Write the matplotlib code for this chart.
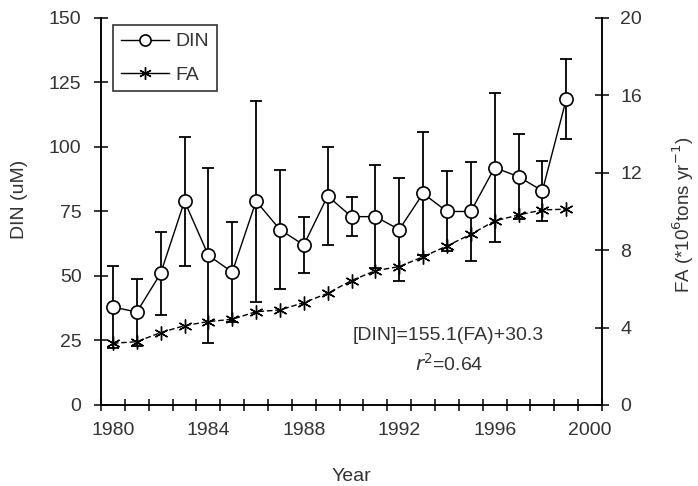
import matplotlib
matplotlib.use("Agg")
import matplotlib.pyplot as plt
from matplotlib.lines import Line2D

plt.rcParams['font.family'] = ['Liberation Sans', 'DejaVu Sans']

years = list(range(1980, 2000))
din = [38, 36, 51, 79, 58, 51.5, 79, 68, 62, 81, 73, 73, 68, 82, 75, 75, 92, 88.5, 83, 118.5]
din_err = [16, 13, 16, 25, 34, 19.5, 39, 23, 11, 19, 7.5, 20, 20, 24, 15.5, 19, 29, 16.5, 11.7, 15.5]
fa = [3.19, 3.27, 3.74, 4.10, 4.31, 4.43, 4.82, 4.91, 5.29, 5.77, 6.43, 6.94, 7.15, 7.66, 8.22,
      8.82, 9.51, 9.82, 10.08, 10.12]

din_ticks = [0, 25, 50, 75, 100, 125, 150]
fa_ticks = [0, 4, 8, 12, 16, 20]
year_labels = [1980, 1984, 1988, 1992, 1996, 2000]

txt = '#333333'
fs = 14

fig = plt.figure(figsize=(6.98, 4.86), dpi=100)
ax = fig.add_axes([0.1447, 0.1667, 0.7178, 0.7963])
ax2 = ax.twinx()

# DIN with error bars
ax.errorbar(years, din, yerr=din_err, fmt='none', ecolor='black', elinewidth=1.3,
            capsize=4.5, capthick=1.3, zorder=2)
ax.plot(years, din, color='black', lw=1.0, marker='o', markersize=9.5,
        markerfacecolor='white', markeredgecolor='black', markeredgewidth=1.2, zorder=3)

# FA
ax2.plot(years, fa, color='black', lw=1.0, ls=(0, (4, 2)), marker=(6, 2, 0), markersize=10,
         markeredgewidth=1.0, zorder=3)

ax.set_xlim(1979.5, 2000.45)
ax.set_ylim(0, 150)
ax2.set_ylim(0, 20)

ax.set_xticks(year_labels)
ax.set_xticks([1979.5 + k for k in range(22)], minor=True)
ax.tick_params(axis='x', which='major', length=0, pad=12, labelsize=fs, labelcolor=txt)
ax.tick_params(axis='x', which='minor', direction='inout', length=9, width=1.1)

ax.set_yticks(din_ticks)
ax.tick_params(axis='y', direction='inout', length=10, width=1.1, labelsize=fs, labelcolor=txt, pad=9)
ax2.set_yticks(fa_ticks)
ax2.tick_params(axis='y', direction='inout', length=10, width=1.1, labelsize=fs, labelcolor=txt, pad=8)

for a in (ax, ax2):
    for s in a.spines.values():
        s.set_linewidth(1.1)
    a.spines['top'].set_visible(False)

ax.set_xlabel('Year', fontsize=fs, color=txt)
ax.xaxis.set_label_coords(0.5, -0.163)
ax.set_ylabel('DIN (uM)', fontsize=fs, color=txt)
ax.yaxis.set_label_coords(-0.145, 0.53)
ax2.set_ylabel(r'FA (*10$^{6}$tons yr$^{-1}$)', fontsize=13.5, color=txt, rotation=90)
ax2.yaxis.set_label_coords(1.136, 0.49)

ax.text(1994.05, 27, '[DIN]=155.1(FA)+30.3', fontsize=fs, color=txt, ha='center', va='center')
ax.text(1994.1, 15.8, r'$r$$^2$=0.64', fontsize=fs, color=txt, ha='center', va='center')

handles = [
    Line2D([], [], color='black', lw=1.0, marker='o', markersize=8, markerfacecolor='white',
           markeredgecolor='black', markeredgewidth=1.2),
    Line2D([], [], color='black', lw=1.0, marker=(6, 2, 0), markersize=9, markeredgewidth=1.0),
]
leg = ax2.legend(handles, ['DIN', 'FA'], loc='upper left', bbox_to_anchor=(0.024, 0.982),
                 borderaxespad=0, frameon=True, fancybox=False, edgecolor='black', fontsize=fs,
                 handlelength=2.5, borderpad=0.4, labelspacing=0.8, handletextpad=0.3)
leg.get_frame().set_linewidth(1.2)
for t in leg.get_texts():
    t.set_color(txt)

fig.savefig('out.png', dpi=100)
